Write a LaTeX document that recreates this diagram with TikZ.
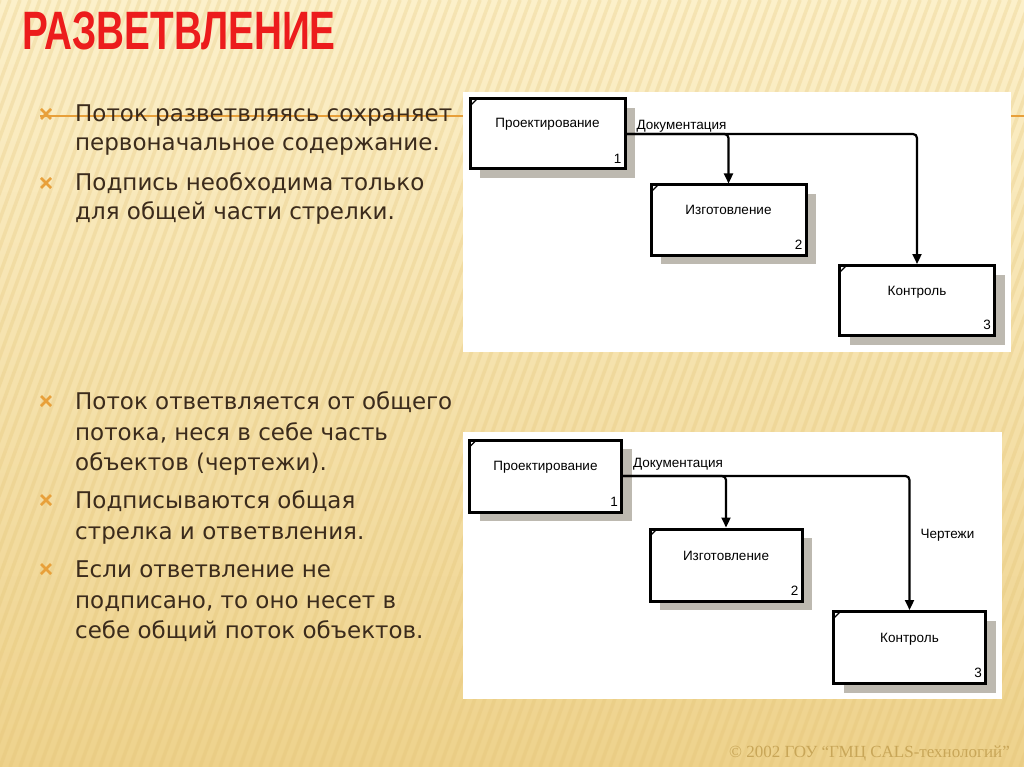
\documentclass[tikz,border=0pt]{standalone}
\usepackage{fontspec}
\setmainfont{DejaVu Sans}
\newfontfamily\diafont{Liberation Sans}
\newfontfamily\titlefont{Liberation Sans}
\newfontfamily\footfont{Liberation Serif}
\usetikzlibrary{arrows.meta,calc,shadows}
\definecolor{bgtop}{HTML}{FCF0CA}
\definecolor{bgbot}{HTML}{EED28C}
\definecolor{stripe}{HTML}{E0BE6C}
\definecolor{orangeln}{HTML}{E8A03A}
\definecolor{txt}{HTML}{3B2B1C}
\definecolor{shadowc}{HTML}{BDB9B0}
\definecolor{titlered}{HTML}{EC1C1C}
\definecolor{footc}{HTML}{C8A658}
\tikzset{
  panel/.style={fill=white, draw=none},
  box/.style={draw=black, line width=3pt, fill=white, inner sep=0pt,
    drop shadow={shadow xshift=10pt, shadow yshift=-9pt, fill=shadowc, opacity=1}},
  boxA/.style={box, minimum width=155pt, minimum height=70pt},
  boxB/.style={box, minimum width=152pt, minimum height=72pt},
  boxtxt/.style={font=\diafont\fontsize{13.5}{15}\selectfont, inner sep=0pt},
  flow/.style={line width=2.2pt, rounded corners=4pt, -{Triangle[length=10pt,width=9pt]}},
  lbl/.style={font=\diafont\fontsize{13.5}{15}\selectfont, inner sep=1pt},
  bul/.style={orangeln, line width=2.6pt},
  btxt/.style={font=\fontsize{23}{30}\selectfont, text=txt, anchor=base west, inner sep=0pt},
  tick/.style={line width=1.3pt},
}
\newcommand{\bulletmark}[2]{\draw[bul] (#1-5,#2-5) -- (#1+5,#2+5) (#1-5,#2+5) -- (#1+5,#2-5);}
\newcommand{\cornertick}[1]{\draw[tick] ([xshift=2pt,yshift=-8pt]#1.north west) -- ([xshift=8pt,yshift=-2pt]#1.north west);}
\begin{document}
\begin{tikzpicture}[x=1pt,y=-1pt]
\useasboundingbox (0,0) rectangle (1024,767);
% background
\shade[top color=bgtop, bottom color=bgbot] (0,0) rectangle (1024,767);
\begin{scope}
  \clip (0,0) rectangle (1024,767);
  \foreach \i in {-30,...,105}{
    \draw[stripe, opacity=0.24, line width=3.5pt] (\i*10,767) -- (\i*10+280,0);
  }
\end{scope}
% orange rule
\draw[orangeln, line width=2pt] (40,116) -- (1024,116);
% title
\node[anchor=base west, inner sep=0pt, text=titlered] (title) at (22,50)
  {\scalebox{0.73}[1.02]{\titlefont\bfseries\fontsize{53}{60}\selectfont РАЗВЕТВЛЕНИЕ}};
% bullets top
\bulletmark{46}{114}
\bulletmark{46}{183}
\node[btxt] (t1) at (75,122) {Поток разветвляясь сохраняет};
\node[btxt] (t2) at (75,151) {первоначальное содержание.};
\node[btxt] (t3) at (75,191) {Подпись необходима только};
\node[btxt] (t4) at (75,220) {для общей части стрелки.};
% bullets bottom
\bulletmark{46}{401}
\bulletmark{46}{500}
\bulletmark{46}{569}
\node[btxt] (u1) at (75,409) {Поток ответвляется от общего};
\node[btxt] (u2) at (75,440) {потока, неся в себе часть};
\node[btxt] (u3) at (75,470) {объектов (чертежи).};
\node[btxt] (u4) at (75,508) {Подписываются общая};
\node[btxt] (u5) at (75,539) {стрелка и ответвления.};
\node[btxt] (u6) at (75,577) {Если ответвление не};
\node[btxt] (u7) at (75,608) {подписано, то оно несет в};
\node[btxt] (u8) at (75,638) {себе общий поток объектов.};
% panel 1
\fill[panel] (463,92) rectangle (1011,352);
\node[boxA] (p1) at (547.5,134) {};
\node[boxA] (i1) at (728.5,220) {};
\node[boxA] (k1) at (917,300.5) {};
\foreach \b in {p1,i1,k1}{\cornertick{\b}}
\node[boxtxt] (p1l) at ([yshift=-27pt]p1.north) {Проектирование};
\node[boxtxt] (p1n) at ([xshift=-9pt,yshift=12pt]p1.south east) {1};
\node[boxtxt] (i1l) at ([yshift=-26pt]i1.north) {Изготовление};
\node[boxtxt] (i1n) at ([xshift=-9pt,yshift=12pt]i1.south east) {2};
\node[boxtxt] (k1l) at ([yshift=-28pt]k1.north) {Контроль};
\node[boxtxt] (k1n) at ([xshift=-9pt,yshift=12pt]k1.south east) {3};
\draw[flow] (p1.east) -| node[lbl, pos=0, anchor=west, xshift=8pt, yshift=8pt] {Документация} (k1.north);
\draw[flow] (p1.east) -| (i1.north);
% panel 2
\fill[panel] (463,432) rectangle (1002,699);
\node[boxB] (p2) at (545.5,476) {};
\node[boxB] (i2) at (726,565) {};
\node[boxB] (k2) at (909.5,647.5) {};
\foreach \b in {p2,i2,k2}{\cornertick{\b}}
\node[boxtxt] (p2l) at ([yshift=-29pt]p2.north) {Проектирование};
\node[boxtxt] (p2n) at ([xshift=-9pt,yshift=12pt]p2.south east) {1};
\node[boxtxt] (i2l) at ([yshift=-28pt]i2.north) {Изготовление};
\node[boxtxt] (i2n) at ([xshift=-9pt,yshift=12pt]i2.south east) {2};
\node[boxtxt] (k2l) at ([yshift=-29pt]k2.north) {Контроль};
\node[boxtxt] (k2n) at ([xshift=-9pt,yshift=12pt]k2.south east) {3};
\draw[flow] (p2.east) -| node[lbl, pos=0, anchor=west, xshift=8pt, yshift=12pt] {Документация}
  node[lbl, pos=0.72, anchor=west, xshift=9pt] {Чертежи} (k2.north);
\draw[flow] (p2.east) -| (i2.north);
% footer
\node[anchor=east, inner sep=0pt, text=footc, font=\footfont\fontsize{17}{20}\selectfont] (foot) at (1010,753)
  {© 2002 ГОУ “ГМЦ CALS-технологий”};
\end{tikzpicture}
\end{document}
